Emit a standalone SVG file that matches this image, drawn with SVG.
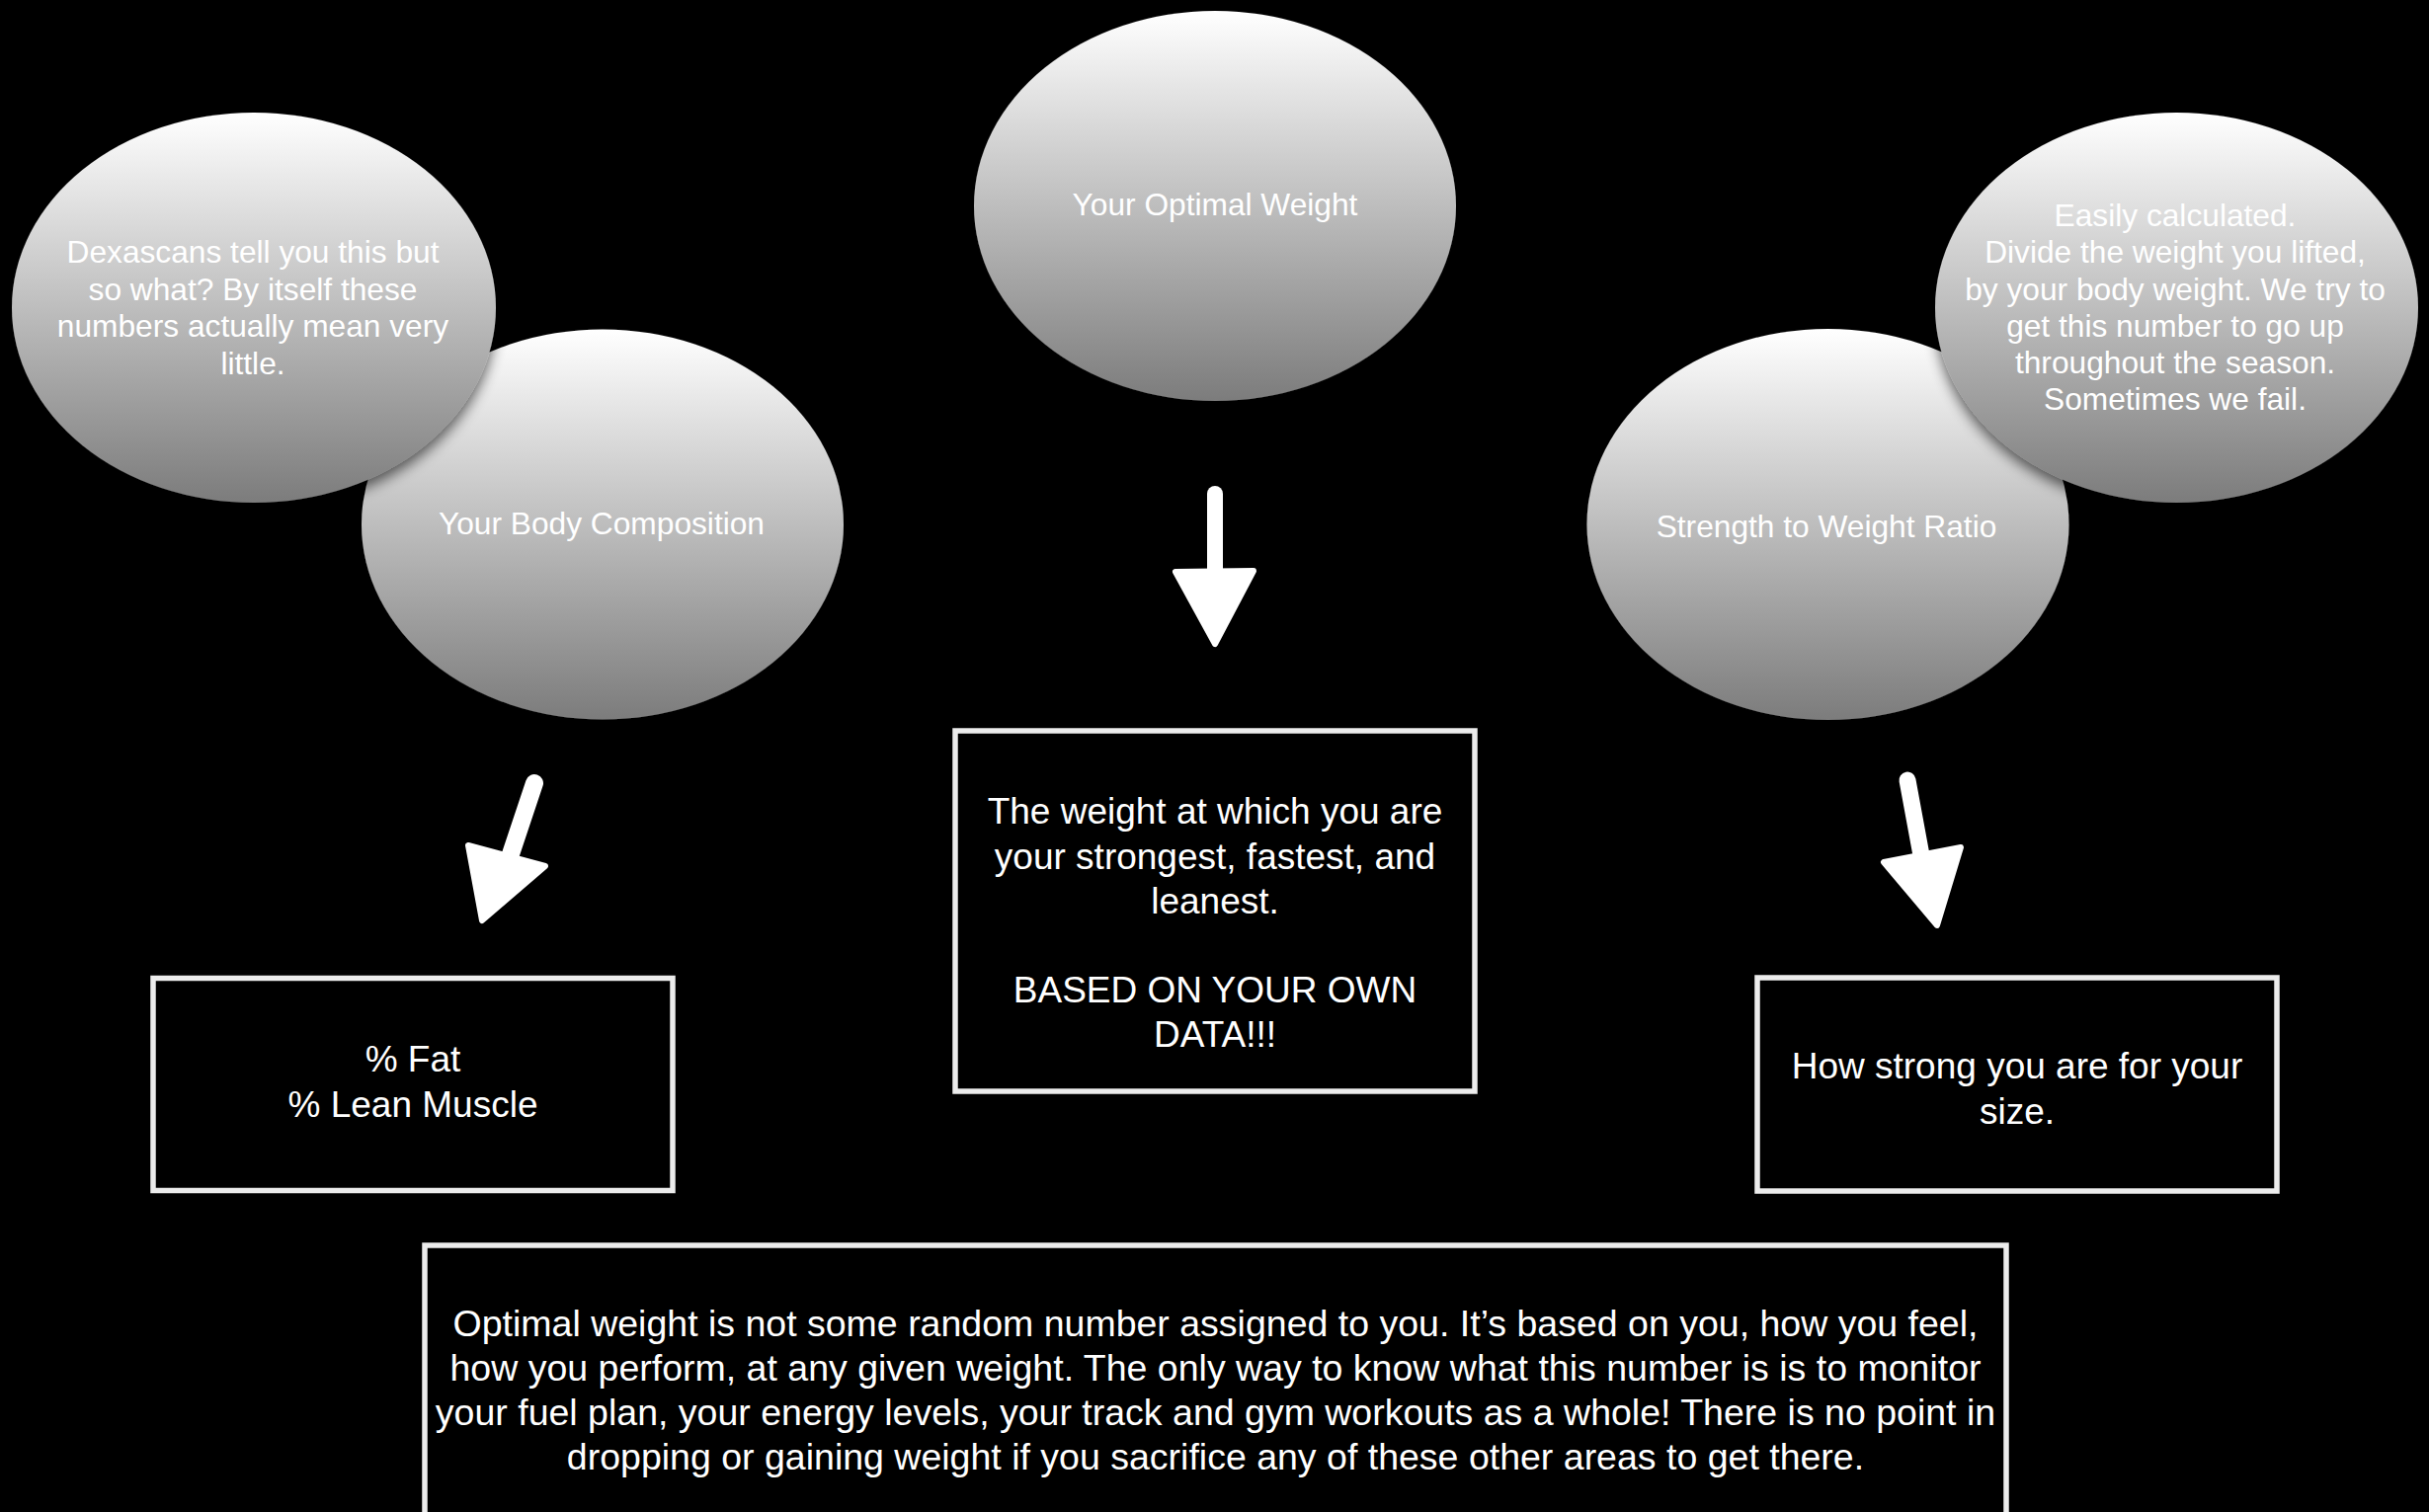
<svg xmlns="http://www.w3.org/2000/svg" width="2459" height="1531" viewBox="0 0 2459 1531">
<defs>
<linearGradient id="ballGrad" x1="0" y1="0" x2="0" y2="1">
<stop offset="0" stop-color="#ffffff"/>
<stop offset="1" stop-color="#7c7c7c"/>
</linearGradient>
<filter id="shadow" x="-20%" y="-20%" width="140%" height="150%">
<feGaussianBlur in="SourceAlpha" stdDeviation="7"/>
<feOffset dx="0" dy="7" result="b"/>
<feComponentTransfer><feFuncA type="linear" slope="0.6"/></feComponentTransfer>
<feMerge><feMergeNode/><feMergeNode in="SourceGraphic"/></feMerge>
</filter>
</defs>
<style>
.ball{fill:url(#ballGrad);filter:url(#shadow);}
.box{fill:#000;stroke:#ececec;stroke-width:5.5;}
.t{font-family:"Liberation Sans",Arial,Helvetica,sans-serif;fill:#fff;text-anchor:middle;}
.s{font-size:31.7px;}
.b{font-size:37px;}
.bb{font-size:37.5px;}
.arrow-shaft{stroke:#fff;stroke-linecap:round;fill:none;}
.arrow-head{fill:#fff;stroke:#fff;stroke-width:6;stroke-linejoin:round;}
</style>
<rect x="0" y="0" width="2459" height="1531" fill="#000"/>

<g id="body-composition">
<ellipse class="ball" cx="610" cy="531" rx="244" ry="197.5"/>
<text class="t s" x="609" y="541">Your Body Composition</text>
</g>
<g id="dexascans">
<ellipse class="ball" cx="257" cy="311.5" rx="245" ry="197.5"/>
<text class="t s" x="256"><tspan x="256" y="266">Dexascans tell you this but</tspan><tspan x="256" y="304">so what? By itself these</tspan><tspan x="256" y="341">numbers actually mean very</tspan><tspan x="256" y="379">little.</tspan></text>
</g>
<g id="optimal-weight">
<ellipse class="ball" cx="1230" cy="208.5" rx="244" ry="197.5"/>
<text class="t s" x="1230" y="218">Your Optimal Weight</text>
</g>
<g id="strength-ratio">
<ellipse class="ball" cx="1850.5" cy="531" rx="244" ry="198"/>
<text class="t s" x="1849" y="544">Strength to Weight Ratio</text>
</g>
<g id="easily-calculated">
<ellipse class="ball" cx="2203.5" cy="311.5" rx="244.5" ry="197.5"/>
<text class="t s" x="2202"><tspan x="2202" y="229">Easily calculated.</tspan><tspan x="2202" y="266">Divide the weight you lifted,</tspan><tspan x="2202" y="304">by your body weight. We try to</tspan><tspan x="2202" y="341">get this number to go up</tspan><tspan x="2202" y="378">throughout the season.</tspan><tspan x="2202" y="415">Sometimes we fail.</tspan></text>
</g>

<g id="connectors">
<line class="arrow-shaft" x1="541" y1="793" x2="516" y2="868" stroke-width="18"/>
<polygon class="arrow-head" points="474,856 552,877 488,932"/>
<line class="arrow-shaft" x1="1230" y1="500" x2="1230" y2="585" stroke-width="16"/>
<polygon class="arrow-head" points="1190,579 1269,578 1230,652"/>
<line class="arrow-shaft" x1="1931" y1="790" x2="1945" y2="866" stroke-width="17"/>
<polygon class="arrow-head" points="1907,873 1985,858 1961,937"/>
</g>

<g id="fat-lean-box">
<rect class="box" x="155" y="990.5" width="526" height="215"/>
<text class="t b" x="418"><tspan x="418" y="1085">% Fat</tspan><tspan x="418" y="1131">% Lean Muscle</tspan></text>
</g>
<g id="optimal-box">
<rect class="box" x="967" y="740" width="526" height="365"/>
<text class="t b" x="1230"><tspan x="1230" y="834">The weight at which you are</tspan><tspan x="1230" y="880">your strongest, fastest, and</tspan><tspan x="1230" y="925">leanest.</tspan><tspan x="1230" y="1015">BASED ON YOUR OWN</tspan><tspan x="1230" y="1060">DATA!!!</tspan></text>
</g>
<g id="strength-box">
<rect class="box" x="1779" y="990" width="526" height="216"/>
<text class="t b" x="2042"><tspan x="2042" y="1092">How strong you are for your</tspan><tspan x="2042" y="1138">size.</tspan></text>
</g>
<g id="summary-box">
<rect class="box" x="430" y="1261" width="1601" height="300"/>
<text class="t bb" x="1230.5"><tspan x="1230.5" y="1353">Optimal weight is not some random number assigned to you. It’s based on you, how you feel,</tspan><tspan x="1230.5" y="1398">how you perform, at any given weight. The only way to know what this number is is to monitor</tspan><tspan x="1230.5" y="1443">your fuel plan, your energy levels, your track and gym workouts as a whole! There is no point in</tspan><tspan x="1230.5" y="1488">dropping or gaining weight if you sacrifice any of these other areas to get there.</tspan></text>
</g>
</svg>
